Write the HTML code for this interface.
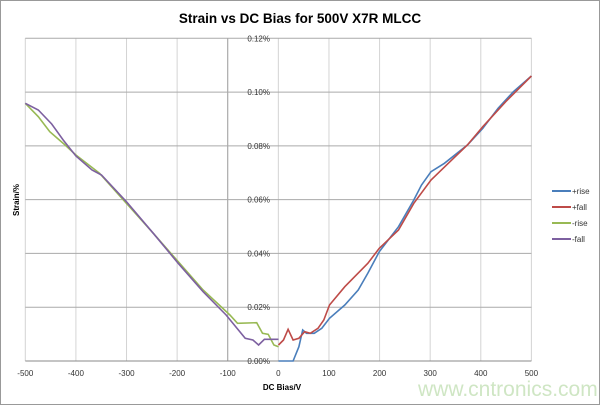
<!DOCTYPE html><html><head><style>body{margin:0;background:#fff}svg{display:block}</style></head><body>
<svg id="s" width="600" height="405" xmlns="http://www.w3.org/2000/svg" font-family="Liberation Sans, sans-serif">
<rect x="0.5" y="0.5" width="599" height="404" fill="#fff" stroke="#999"/>
<text x="300" y="23" text-anchor="middle" font-weight="bold" font-size="13.5">Strain vs DC Bias for 500V X7R MLCC</text>
<g id="grid"></g>
<g id="lines" fill="none" stroke-width="1.6"></g>
<text x="19" y="200" transform="rotate(-90 19 200)" text-anchor="middle" font-size="8" font-weight="bold">Strain/%</text>
<text x="282" y="390" text-anchor="middle" font-size="8" font-weight="bold">DC Bias/V</text>
<g font-size="8" fill="#333">
<line x1="552" y1="191" x2="571" y2="191" stroke="#4a7ebb" stroke-width="2"/><text x="572" y="194">+rise</text>
<line x1="552" y1="207" x2="571" y2="207" stroke="#be4b48" stroke-width="2"/><text x="572" y="210">+fall</text>
<line x1="552" y1="223" x2="571" y2="223" stroke="#98b954" stroke-width="2"/><text x="572" y="226">-rise</text>
<line x1="552" y1="239" x2="571" y2="239" stroke="#7d60a0" stroke-width="2"/><text x="572" y="242">-fall</text>
</g>
<text x="418" y="396" font-size="21" fill="#cfe6c4">www.cntronics.com</text>
</svg>
<script>
var ns="http://www.w3.org/2000/svg",g=document.getElementById('grid'),L=document.getElementById('lines');
function el(p,t,a,txt){var e=document.createElementNS(ns,t);for(var k in a)e.setAttribute(k,a[k]);if(txt)e.textContent=txt;p.appendChild(e);}
var x0=25.3,x1=531.4,yT=38.3,y0=361;
for(var i=0;i<=10;i++){var x=x0+(x1-x0)*i/10;el(g,'line',{x1:x,x2:x,y1:yT,y2:y0,stroke:i==4?'#999':'#d4d4d4'});
el(g,'text',{x:x,y:376,'text-anchor':'middle','font-size':8,fill:'#333'},String(-500+100*i));}
for(var j=0;j<=6;j++){var y=y0-(y0-yT)*j/6;el(g,'line',{x1:x0,x2:x1,y1:y,y2:y,stroke:j==0?'#888':'#aaa'});
el(g,'text',{x:270,y:y+3,'text-anchor':'end','font-size':8,fill:'#333'},'0.'+(j*2<10?'0':'')+(j*2)+'%');}
function path(pts,c){var d='';for(var k=0;k<pts.length;k++){d+=(k?'L':'M')+(pts[k][0]/2.61).toFixed(1)+','+(pts[k][1]/3).toFixed(1);}el(L,'path',{d:d,stroke:c});}
path([[66,310],[100,350],[130,395],[170,435],[198,465],[260,520],[330,610],[400,700],[465,785],[530,870],[600,945],[620,970],[670,968],[685,1000],[700,1003],[715,1035],[727,1040]],'#98b954');
path([[66,310],[100,330],[135,372],[165,420],[198,468],[240,510],[265,525],[330,605],[400,700],[465,790],[530,875],[590,945],[640,1015],[660,1020],[675,1035],[690,1018],[727,1018]],'#7d60a0');
path([[727,1083],[765,1083],[780,1040],[790,990],[800,1000],[820,1000],[840,985],[860,955],[900,915],[935,870],[960,820],[990,755],[1040,680],[1080,600],[1100,555],[1125,515],[1160,490],[1220,435],[1260,385],[1300,325],[1340,275],[1387,228]],'#4a7ebb');
path([[727,1035],[740,1020],[752,988],[765,1020],[780,1015],[795,995],[810,1000],[830,985],[845,960],[860,915],[900,860],[960,790],[990,745],[1040,690],[1080,610],[1125,540],[1170,490],[1220,435],[1260,380],[1320,305],[1387,228]],'#be4b48');
</script>
</body></html>
